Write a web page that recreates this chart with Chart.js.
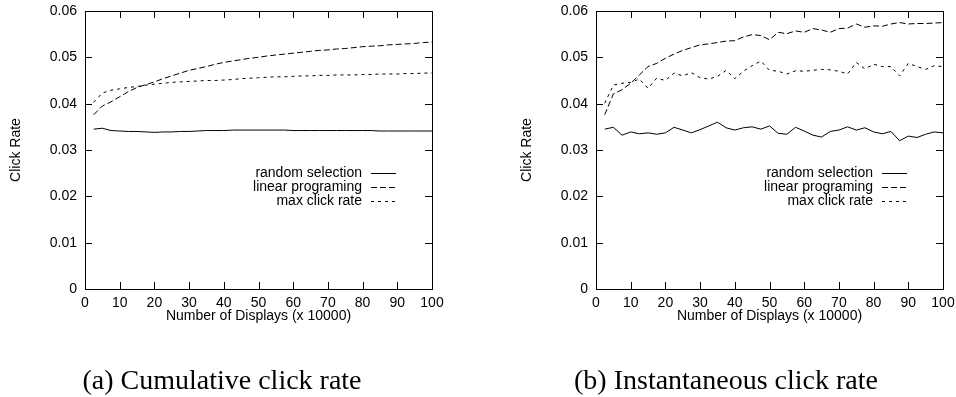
<!DOCTYPE html>
<html>
<head>
<meta charset="utf-8">
<script src="https://cdn.jsdelivr.net/npm/chart.js@4/dist/chart.umd.min.js"></script>
<style>
  html, body { margin: 0; padding: 0; background: #fff; }
  #wrap { position: relative; width: 956px; height: 397px; overflow: hidden; }
  canvas { position: absolute; top: 0; }
  .cap { position: absolute; top: 366px; font-family: "Liberation Serif", "DejaVu Serif", serif; font-size: 28px; line-height: 1; color: #000; white-space: nowrap; transform: translateX(-50%); }
</style>
</head>
<body>
<div id="wrap">
  <canvas id="c1" width="478" height="397" style="left:0px"></canvas>
  <canvas id="c2" width="478" height="397" style="left:478px"></canvas>
  <div class="cap" id="capA" style="left:222px">(a) Cumulative click rate</div>
  <div class="cap" id="capB" style="left:726px">(b) Instantaneous click rate</div>
</div>
<script>
// ---- data ----
const displays = [2.5, 5, 7.5, 10, 12.5, 15, 17.5, 20, 22.5, 25, 27.5, 30, 32.5, 35, 37.5, 40, 42.5, 45, 47.5, 50,
                  52.5, 55, 57.5, 60, 62.5, 65, 67.5, 70, 72.5, 75, 77.5, 80, 82.5, 85, 87.5, 90, 92.5, 95, 97.5, 100];

const seriesNames = ["random selection", "linear programing", "max click rate"];

// (a) cumulative click rate
const cumRandom = [0.0345, 0.0347, 0.0342, 0.0341, 0.0340, 0.0340, 0.0339, 0.0338, 0.0339, 0.0339,
                   0.0340, 0.0340, 0.0341, 0.0342, 0.0342, 0.0342, 0.0343, 0.0343, 0.0343, 0.0343,
                   0.0343, 0.0343, 0.0343, 0.0342, 0.0342, 0.0342, 0.0342, 0.0342, 0.0342, 0.0342,
                   0.0342, 0.0342, 0.0342, 0.0341, 0.0341, 0.0341, 0.0341, 0.0341, 0.0341, 0.0341];
const cumLinear = [0.0376, 0.0395, 0.0404, 0.0415, 0.0426, 0.0435, 0.0441, 0.0447, 0.0454, 0.0460,
                   0.0466, 0.0472, 0.0476, 0.0480, 0.0485, 0.0489, 0.0492, 0.0495, 0.0498, 0.0500,
                   0.0503, 0.0505, 0.0507, 0.0509, 0.0511, 0.0513, 0.0515, 0.0516, 0.0518, 0.0519,
                   0.0521, 0.0523, 0.0524, 0.0525, 0.0527, 0.0528, 0.0529, 0.0530, 0.0532, 0.0533];
const cumMax    = [0.0403, 0.0423, 0.0429, 0.0432, 0.0435, 0.0437, 0.0440, 0.0442, 0.0444, 0.0446,
                   0.0447, 0.0448, 0.0449, 0.0450, 0.0450, 0.0451, 0.0452, 0.0454, 0.0455, 0.0456,
                   0.0457, 0.0458, 0.0458, 0.0459, 0.0460, 0.0460, 0.0461, 0.0461, 0.0462, 0.0462,
                   0.0462, 0.0463, 0.0463, 0.0464, 0.0464, 0.0464, 0.0465, 0.0465, 0.0466, 0.0466];

// (b) instantaneous click rate
const instRandom = [0.0345, 0.0349, 0.0332, 0.0339, 0.0335, 0.0337, 0.0334, 0.0337, 0.0349, 0.0343,
                    0.0337, 0.0344, 0.0352, 0.0360, 0.0348, 0.0343, 0.0348, 0.0350, 0.0345, 0.0352,
                    0.0336, 0.0334, 0.0349, 0.0341, 0.0332, 0.0328, 0.0340, 0.0343, 0.0350, 0.0343,
                    0.0348, 0.0339, 0.0335, 0.0340, 0.0320, 0.0330, 0.0327, 0.0334, 0.0339, 0.0337];
const instLinear = [0.0376, 0.0421, 0.0430, 0.0444, 0.0462, 0.0480, 0.0487, 0.0498, 0.0507, 0.0515,
                    0.0521, 0.0527, 0.0529, 0.0532, 0.0535, 0.0536, 0.0544, 0.0549, 0.0547, 0.0538,
                    0.0554, 0.0551, 0.0557, 0.0554, 0.0562, 0.0559, 0.0554, 0.0562, 0.0563, 0.0572,
                    0.0565, 0.0568, 0.0567, 0.0572, 0.0575, 0.0572, 0.0573, 0.0573, 0.0574, 0.0575];
const instMax    = [0.0401, 0.0440, 0.0444, 0.0446, 0.0453, 0.0433, 0.0455, 0.0450, 0.0466, 0.0460,
                    0.0467, 0.0456, 0.0453, 0.0459, 0.0472, 0.0454, 0.0470, 0.0482, 0.0492, 0.0472,
                    0.0470, 0.0464, 0.0471, 0.0470, 0.0472, 0.0474, 0.0473, 0.0470, 0.0464, 0.0489,
                    0.0475, 0.0485, 0.0480, 0.0480, 0.0460, 0.0487, 0.0480, 0.0474, 0.0482, 0.0480];

const xTickValues = [0, 10, 20, 30, 40, 50, 60, 70, 80, 90, 100];
const yTickValues = [0, 0.01, 0.02, 0.03, 0.04, 0.05, 0.06];
const xTitle = "Number of Displays (x 10000)";
const yTitle = "Click Rate";

// ---- chart construction ----
const FONT = "'Liberation Sans', Arial, sans-serif";
const FS = 14;
const dashes = [[], [6, 3], [3, 4]];

function pts(ys) { return displays.map((x, i) => ({ x: x, y: ys[i] })); }

const framePlugin = {
  id: 'gnuFrame',
  afterDatasetsDraw(chart) {
    const ctx = chart.ctx;
    const a = chart.chartArea;
    const xs = chart.scales.x, ys = chart.scales.y;
    const TL = 7;
    ctx.save();
    ctx.strokeStyle = '#000';
    ctx.lineWidth = 1;
    ctx.setLineDash([]);
    ctx.strokeRect(Math.round(a.left) + 0.5, Math.round(a.top) + 0.5,
                   Math.round(a.right - a.left), Math.round(a.bottom - a.top));
    ctx.beginPath();
    xs.ticks.forEach(t => {
      const px = Math.round(xs.getPixelForValue(t.value)) + 0.5;
      ctx.moveTo(px, a.bottom); ctx.lineTo(px, a.bottom - TL);
      ctx.moveTo(px, a.top); ctx.lineTo(px, a.top + TL);
    });
    ys.ticks.forEach(t => {
      const py = Math.round(ys.getPixelForValue(t.value)) + 0.5;
      ctx.moveTo(a.left, py); ctx.lineTo(a.left + TL, py);
      ctx.moveTo(a.right, py); ctx.lineTo(a.right - TL, py);
    });
    ctx.stroke();

    // legend (inside plot, gnuplot style)
    ctx.font = FS + 'px ' + FONT;
    ctx.fillStyle = '#000';
    ctx.textAlign = 'right';
    ctx.textBaseline = 'middle';
    const textRight = a.left + 277;
    chart.data.datasets.forEach((ds, i) => {
      const y = a.top + 162 + i * 14;
      ctx.fillText(ds.label, textRight, y);
      ctx.beginPath();
      ctx.setLineDash(ds.borderDash || []);
      ctx.moveTo(textRight + 9, Math.round(y) + 0.5);
      ctx.lineTo(textRight + 34, Math.round(y) + 0.5);
      ctx.stroke();
    });
    ctx.restore();
  }
};

function makeChart(id, series, yAxisWidth, yTitlePad, padRight) {
  const datasets = series.map((s, i) => ({
    label: seriesNames[i],
    data: pts(s),
    borderColor: '#000',
    borderWidth: 1,
    borderDash: dashes[i],
    pointRadius: 0,
    fill: false,
    tension: 0
  }));
  return new Chart(document.getElementById(id), {
    type: 'line',
    data: { datasets },
    plugins: [framePlugin],
    options: {
      responsive: false,
      animation: false,
      devicePixelRatio: 1,
      layout: { padding: { left: 0, right: padRight, top: 11, bottom: 71 } },
      plugins: { legend: { display: false }, tooltip: { enabled: false } },
      scales: {
        x: {
          type: 'linear', min: 0, max: 100,
          afterBuildTicks: s => { s.ticks = xTickValues.map(v => ({ value: v })); },
          afterFit: s => { s.height = 37; s.paddingLeft = 0; s.paddingRight = 0; },
          grid: { display: false, drawTicks: false },
          border: { display: false },
          ticks: { color: '#000', font: { family: FONT, size: FS }, padding: 6, maxRotation: 0, autoSkip: false,
                   callback: v => String(v) },
          title: { display: true, text: xTitle, color: '#000', font: { family: FONT, size: FS },
                   padding: { top: 0, bottom: 1 } }
        },
        y: {
          type: 'linear', min: 0, max: 0.06,
          afterBuildTicks: s => { s.ticks = yTickValues.map(v => ({ value: v })); },
          afterFit: s => { s.width = yAxisWidth; s.paddingTop = 0; s.paddingBottom = 0; },
          grid: { display: false, drawTicks: false },
          border: { display: false },
          ticks: { color: '#000', font: { family: FONT, size: FS }, padding: 8, autoSkip: false,
                   callback: v => (v === 0 ? '0' : v.toFixed(2)) },
          title: { display: true, text: yTitle, color: '#000', font: { family: FONT, size: FS },
                   padding: { top: 7.6, bottom: 0 } }
        }
      }
    }
  });
}

const chartA = makeChart('c1', [cumRandom, cumLinear, cumMax], 85, 7.6, 46);
const chartB = makeChart('c2', [instRandom, instLinear, instMax], 118, 40.6, 13);
chartB.options.scales.y.title.padding = { top: 40.6, bottom: 0 };
chartB.update();
</script>
</body>
</html>
